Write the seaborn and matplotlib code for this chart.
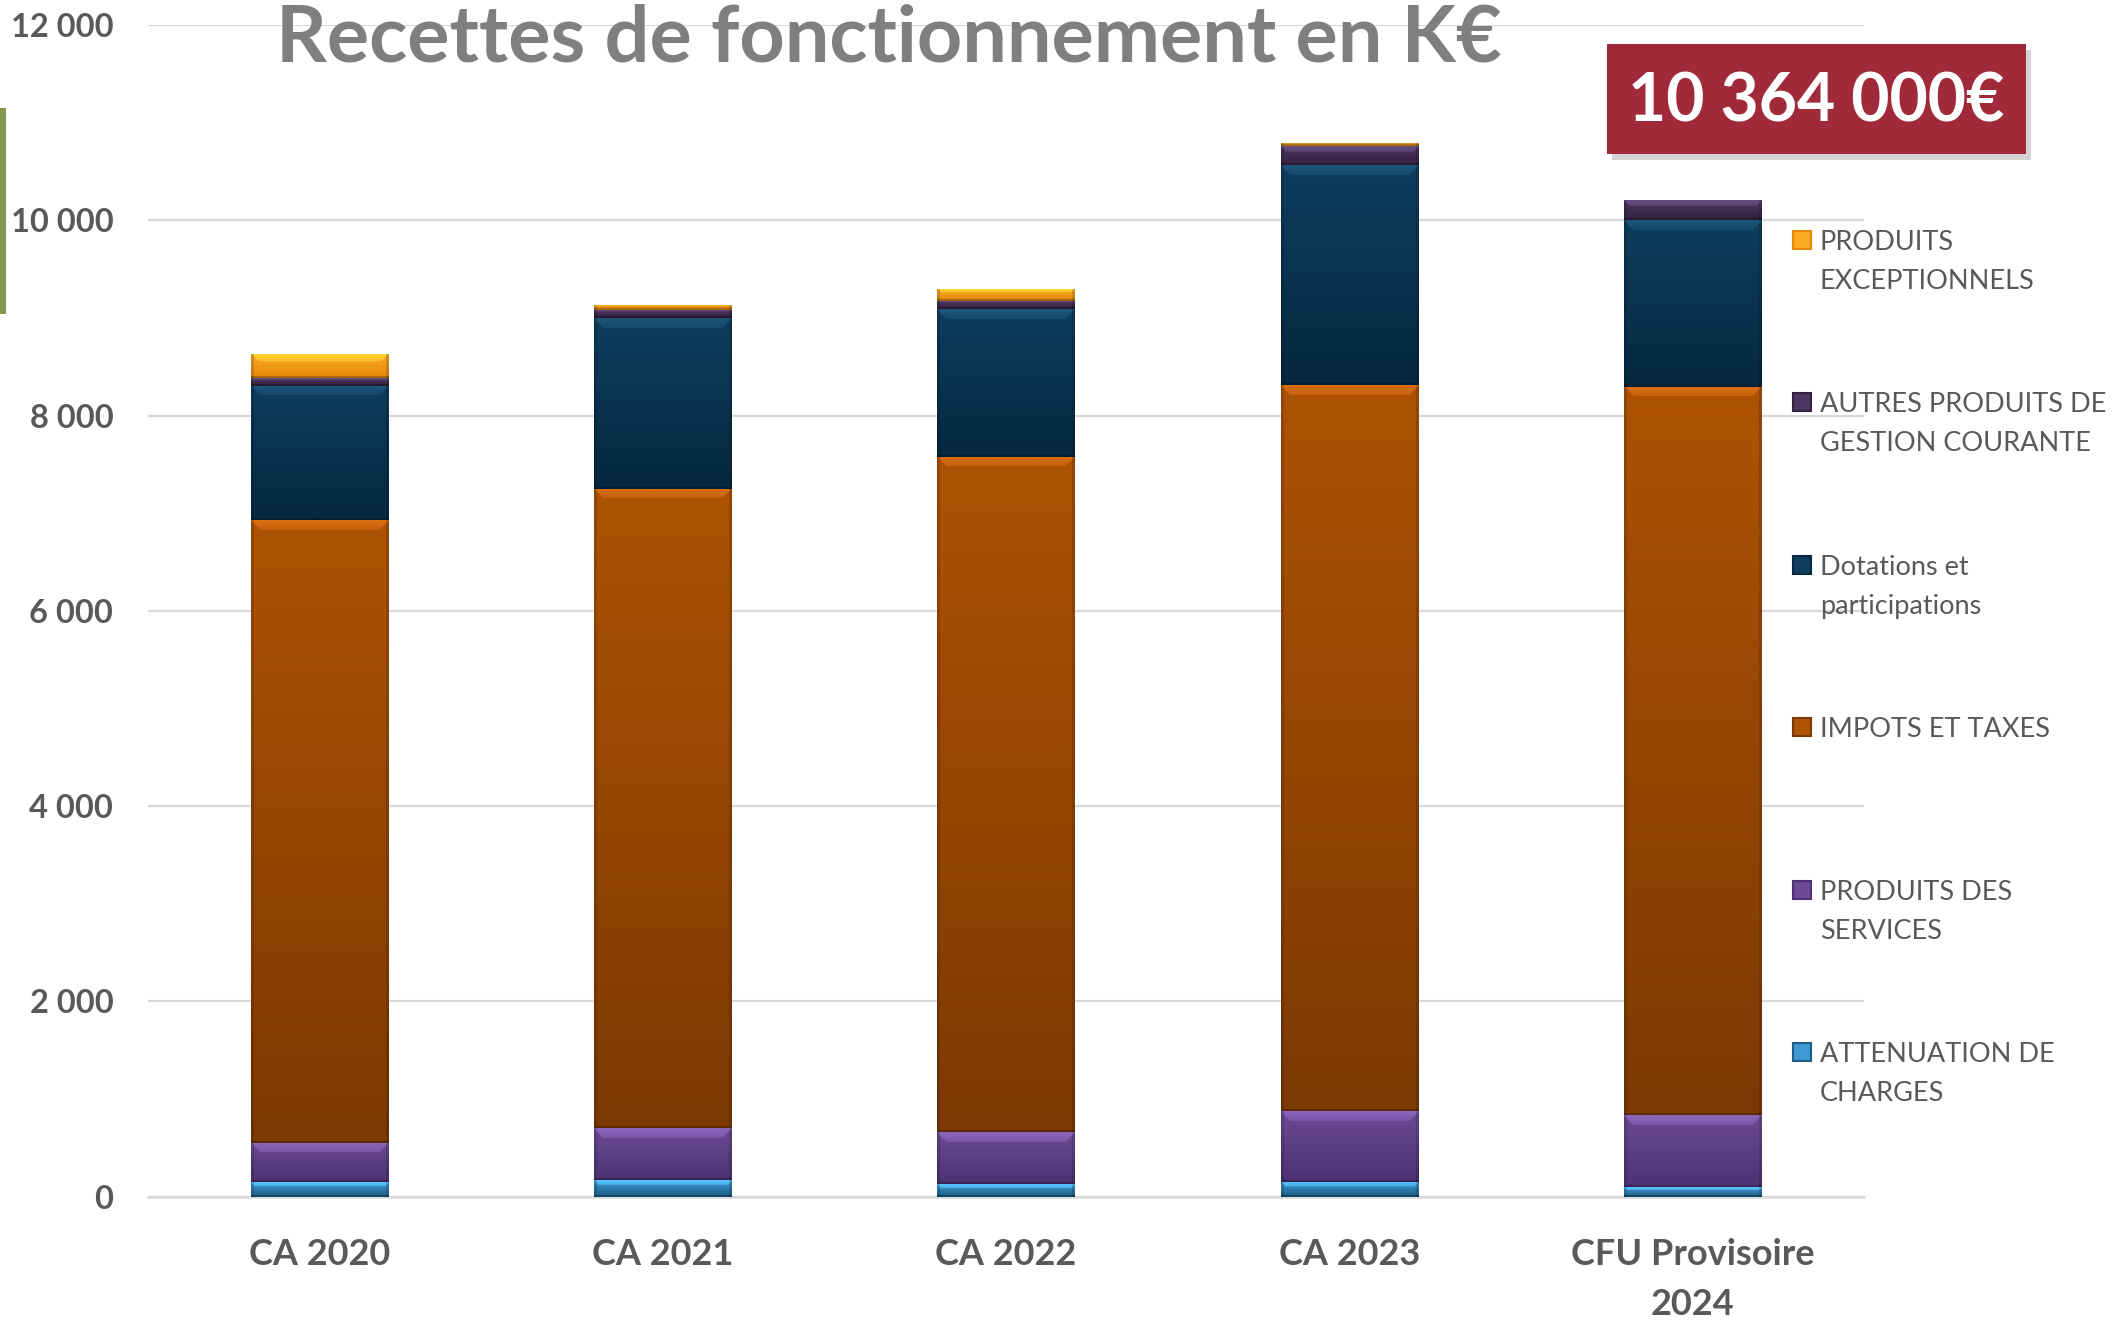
import numpy as np
import pandas as pd
import matplotlib
matplotlib.use("Agg")
import matplotlib.pyplot as plt
import matplotlib.patches as mpatches
from matplotlib.colors import to_rgb
import seaborn as sns

# ---------------- data (K€) ----------------
categories = ["CA 2020", "CA 2021", "CA 2022", "CA 2023", "CFU Provisoire\n2024"]
attenuation = [147, 171, 130, 154, 102]
services = [406, 529, 529, 724, 735]
impots = [6376, 6547, 6919, 7434, 7457]
dotations = [1373, 1748, 1512, 2253, 1708]
autres = [78, 85, 82, 194, 204]
exceptionnels = [246, 54, 123, 34, 0]

series_names = ["ATTENUATION DE\nCHARGES", "PRODUITS DES\nSERVICES", "IMPOTS ET TAXES",
                "Dotations et\nparticipations", "AUTRES PRODUITS DE\nGESTION COURANTE",
                "PRODUITS\nEXCEPTIONNELS"]
series_values = [attenuation, services, impots, dotations, autres, exceptionnels]
# (top colour, bottom colour)
series_colors = [("#3E9AD2", "#1C5C86"), ("#6B4B94", "#4C3272"), ("#AE5305", "#7C3903"),
                 ("#0E3D5D", "#072840"), ("#4C3762", "#33223F"), ("#F9AB22", "#E58A0C")]

y_ticks = [0, 2000, 4000, 6000, 8000, 10000, 12000]
y_ticklabels = ["0", "2 000", "4 000", "6 000", "8 000", "10 000", "12 000"]
title = "Recettes de fonctionnement en K€"
total_label = "10 364 000€"

# ---------------- figure ----------------
sns.set_theme(style="white")
plt.rcParams["font.family"] = ["Lato", "DejaVu Sans"]

W, H = 2123, 1320
fig = plt.figure(figsize=(W / 100, H / 100), dpi=100)
ax = fig.add_axes([148 / W, 1 - 1196.7 / H, (1864 - 148) / W, (1196.7 - 25) / H])

df = pd.DataFrame({"cat": categories})
bottom = np.zeros(len(categories))
for name, vals, (ctop, cbot) in zip(series_names, series_values, series_colors):
    df[name] = vals
    sns.barplot(x=df["cat"], y=df[name], bottom=bottom.copy(), color=ctop, width=0.4,
                saturation=1, ax=ax, zorder=3, linewidth=0)
    bottom = bottom + np.array(vals, dtype=float)

ax.set_xlim(-0.5, 4.5)
ax.set_ylim(0, 12000)

# shading (gradient + bevel) on each bar patch
patch_colors = []
for name, (ctop, cbot) in zip(series_names, series_colors):
    patch_colors += [(ctop, cbot)] * len(categories)
px_per_unit = (1196.7 - 25) / 12000.0
for patch, (ctop, cbot) in zip(list(ax.patches), patch_colors):
    x0, y0 = patch.get_x(), patch.get_y()
    w, h = patch.get_width(), patch.get_height()
    if h <= 0:
        continue
    hpx = max(int(round(h * px_per_unit)), 2)
    wpx = 137
    t = np.linspace(0, 1, hpx)[:, None]
    top = np.array(to_rgb(ctop))
    bot = np.array(to_rgb(cbot))
    body = top[None, None, :] * (1 - t[..., None]) + bot[None, None, :] * t[..., None]
    body = np.repeat(body, wpx, axis=1)
    rows = np.arange(hpx)[:, None]
    cols = np.arange(wpx)[None, :]
    # top bevel highlight (soft)
    band = min(10, max(hpx // 3, 1))
    hl = (rows < band) & (cols >= rows) & (cols < wpx - rows)
    light = np.clip(top * 1.18 + 0.05, 0, 1)
    fade = (1 - rows / max(band, 1))[..., None] * 0.5 + 0.5
    mix = body * (1 - fade) + light[None, None, :] * fade
    body = np.where(hl[..., None], mix, body)
    # bottom darker line
    dk = rows >= hpx - 2
    body[np.broadcast_to(dk, (hpx, wpx))] *= 0.75
    # side edges slightly darker
    edge = (cols < 3) | (cols >= wpx - 3)
    body[np.broadcast_to(edge, (hpx, wpx))] *= 0.85
    img = ax.imshow(body, extent=[x0, x0 + w, y0, y0 + h], aspect="auto",
                    interpolation="bilinear", zorder=3.5, origin="upper")
    img.set_clip_path(patch)

ax.set_xlim(-0.5, 4.5)
ax.set_ylim(0, 12000)

# axes styling
ax.set_yticks(y_ticks)
ax.set_yticklabels(y_ticklabels)
ax.yaxis.grid(True, color="#D9D9D9", linewidth=1.6, zorder=0)
ax.set_axisbelow(True)
for s in ["top", "right", "left"]:
    ax.spines[s].set_visible(False)
ax.spines["bottom"].set_color("#D9D9D9")
ax.spines["bottom"].set_linewidth(1.8)
ax.tick_params(axis="y", length=0, pad=25, labelsize=23.5, labelcolor="#595959")
ax.tick_params(axis="x", length=0, pad=30, labelsize=26, labelcolor="#595959")
for lab in ax.get_yticklabels():
    lab.set_fontweight("bold")
for lab in ax.get_xticklabels():
    lab.set_fontweight("bold")
    lab.set_linespacing(1.6)
ax.set_xlabel("")
ax.set_ylabel("")

# title
fig.text(889 / W, 1 - 61 / H, title, ha="center", va="baseline", fontsize=57,
         fontweight="bold", color="#7F7F7F", zorder=10)

# left green accent
fig.add_artist(mpatches.Rectangle((0, 1 - 314 / H), 6 / W, 206 / H, transform=fig.transFigure,
                                  color="#87964F", linewidth=0))

# red total box with shadow
fig.add_artist(mpatches.Rectangle((1612 / W, 1 - 160 / H), 419 / W, 110 / H,
                                  transform=fig.transFigure, color="#B8B8B8", linewidth=0,
                                  alpha=0.6, zorder=4))
fig.add_artist(mpatches.Rectangle((1607 / W, 1 - 154 / H), 419 / W, 110 / H,
                                  transform=fig.transFigure, color="#A12A3A", linewidth=0,
                                  zorder=5))
fig.text(1816 / W, 1 - 102 / H, total_label, ha="center", va="center", fontsize=47.5,
         fontweight="bold", color="white", zorder=6)

# legend (manual, top = last series)
first_line_y = [1052, 889.6, 727, 564.6, 402, 239.7]
for name, (ctop, cbot), yc in zip(series_names, series_colors, first_line_y):
    fig.add_artist(mpatches.Rectangle((1793 / W, 1 - (yc + 9) / H), 18 / W, 18 / H,
                                      transform=fig.transFigure, facecolor=ctop,
                                      edgecolor=cbot, linewidth=1.5))
    fig.text(1820 / W, 1 - (yc - 10) / H, name, ha="left", va="top", fontsize=19.5,
             color="#595959", linespacing=1.7)

fig.savefig("out.png", dpi=100)
